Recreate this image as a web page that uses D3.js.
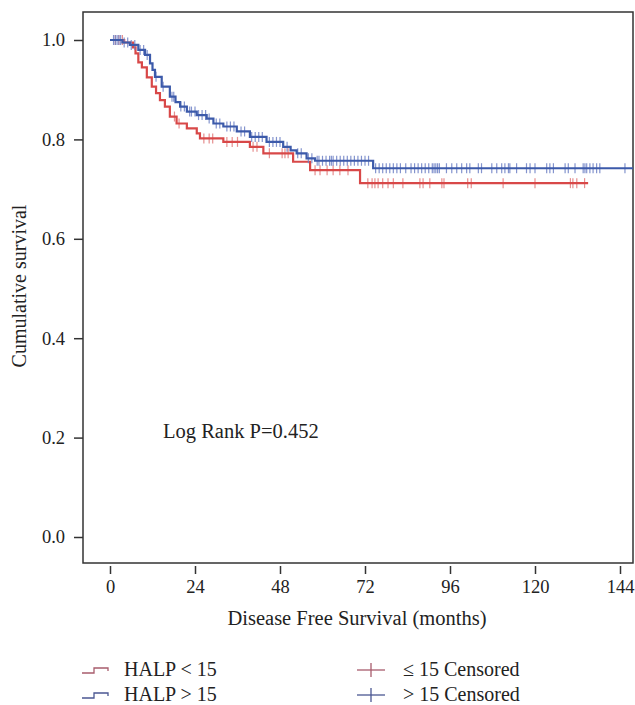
<!DOCTYPE html>
<html>
<head>
<meta charset="UTF-8">
<title>Disease Free Survival</title>
<script src="https://cdn.jsdelivr.net/npm/d3@7"></script>
<style>
  * { margin: 0; padding: 0; }
  body { background: #fff; }
  text { font-family: "Liberation Serif", "DejaVu Serif", serif; fill: #222; }
</style>
</head>
<body>
<div id="chart"></div>
<script>
// ---- data ----
var xTicks = [0, 24, 48, 72, 96, 120, 144];
var yTicks = [0, 0.2, 0.4, 0.6, 0.8, 1.0];

// HALP < 15 : event times (months) and survival after each step
var lowTimes = [0, 4, 6.5, 7.2, 8, 9, 10.4, 11.8, 13, 14.1, 15.5, 16.9, 18.8, 21.7, 24.5, 25.4, 32, 39.5, 43.3, 51.7, 56.5, 70.6];
var lowSurv  = [1, 0.995, 0.985, 0.973, 0.955, 0.945, 0.925, 0.906, 0.893, 0.879, 0.866, 0.846, 0.832, 0.822, 0.812, 0.802, 0.795, 0.785, 0.772, 0.755, 0.738, 0.712];
var lowEnd = 135;
var lowCensored = [1.5, 2.5, 3.5, 18.2, 19.5, 26.5, 28, 29, 33, 34.5, 36, 40.4, 41.5, 45, 48.6, 49.4, 50.3, 57.9, 59.3, 61.3, 63, 64.9, 67.2,
  72.8, 74, 74.8, 75.7, 77, 78.5, 80, 82.7, 87.5, 88.4, 90.3, 93.7, 94.3, 101, 102, 111, 120, 130, 130.7, 131.8, 134];

// HALP > 15
var highTimes = [0, 3.5, 5.6, 8, 9.9, 11.3, 12, 12.7, 14.6, 16.9, 18.5, 19.8, 21.7, 24.5, 27.3, 29.2, 32, 35.8, 39.5, 44.2, 48.9, 51, 52.7, 55.5, 57.9, 74.3];
var highSurv  = [1, 0.995, 0.99, 0.98, 0.97, 0.953, 0.94, 0.926, 0.906, 0.886, 0.875, 0.866, 0.856, 0.849, 0.842, 0.832, 0.826, 0.816, 0.805, 0.795, 0.785, 0.778, 0.772, 0.762, 0.757, 0.742];
var highEnd = 148;
var highCensored = [1, 1.5, 2, 2.5, 3, 4, 5, 6, 7, 8.5, 9.5, 10.5, 13, 15, 17.5, 18, 20, 21, 22.5, 23, 24, 25, 26, 27, 28, 30, 31, 33, 34, 35, 37, 38,
  40, 41, 42, 43, 45, 46, 47, 48, 50, 53, 54, 56, 57, 58.5, 59, 60, 61, 62, 62.5, 63, 64, 65, 66, 67, 68, 69, 70, 71, 72, 73,
  75, 76, 77, 78, 79, 80, 81, 82, 83.5, 85, 86, 87, 88, 89, 90, 91, 91.5, 92, 92.5, 93, 95, 96.5, 97.9, 99.3, 100.7, 101.6,
  104, 104.9, 107.8, 109.2, 110.6, 111.5, 112.5, 112.9, 114.8, 117.6, 118.6, 120, 123.3, 124.2, 125.2, 128.5, 129.4, 131.3,
  133.6, 134.1, 134.6, 135.5, 136.4, 137.4, 138.3, 145.4];

var legendLabels = ["HALP < 15", "HALP > 15", "\u2264 15 Censored", "> 15 Censored"];

// ---- layout ----
var W = 635, H = 705;
var frame = {left: 83, top: 12, right: 633, bottom: 563};
var red = "#d84848", blue = "#3c5aaa";
var redTick = "#e27c7c", blueTick = "#6f82c6";

var svg = d3.select("#chart").append("svg").attr("width", W).attr("height", H);

var x = d3.scaleLinear().domain([0, 144]).range([110, 620]);
var y = d3.scaleLinear().domain([0, 1]).range([537, 40]);

// frame
svg.append("rect")
  .attr("x", frame.left).attr("y", frame.top)
  .attr("width", frame.right - frame.left).attr("height", frame.bottom - frame.top)
  .attr("fill", "none").attr("stroke", "#333").attr("stroke-width", 1.5);

// y axis
var yAxis = svg.append("g").attr("transform", "translate(" + frame.left + ",0)")
  .call(d3.axisLeft(y).tickValues(yTicks).tickFormat(d3.format(".1f")).tickSize(9).tickPadding(9));
yAxis.select(".domain").remove();
yAxis.selectAll("line").attr("stroke", "#333").attr("stroke-width", 1.5);
yAxis.selectAll("text").attr("font-size", 18.5).attr("fill", "#222");

// x axis (offset below frame)
var xAxis = svg.append("g").attr("transform", "translate(0," + (frame.bottom + 3) + ")")
  .call(d3.axisBottom(x).tickValues(xTicks).tickSize(8).tickPadding(6));
xAxis.select(".domain").remove();
xAxis.selectAll("line").attr("stroke", "#333").attr("stroke-width", 1.5);
xAxis.selectAll("text").attr("font-size", 18.5).attr("fill", "#222");

// axis titles
svg.append("text").attr("x", 357).attr("y", 625).attr("text-anchor", "middle")
  .attr("font-size", 20.5).text("Disease Free Survival (months)");
svg.append("text").attr("transform", "translate(26,286) rotate(-90)").attr("text-anchor", "middle")
  .attr("font-size", 20).text("Cumulative survival");

svg.append("text").attr("x", 163).attr("y", 438).attr("font-size", 20.5).text("Log Rank P=0.452");

var plot = svg.append("g");
svg.append("clipPath").attr("id", "clip").append("rect")
  .attr("x", frame.left).attr("y", frame.top)
  .attr("width", frame.right - frame.left).attr("height", frame.bottom - frame.top);
plot.attr("clip-path", "url(#clip)");

function stepPoints(times, surv, end) {
  var pts = times.map(function(t, i) { return [t, surv[i]]; });
  pts.push([end, surv[surv.length - 1]]);
  return pts;
}
function survAt(times, surv, t) {
  var i = d3.bisectRight(times, t) - 1;
  return surv[Math.max(0, i)];
}
var line = d3.line().x(function(d) { return x(d[0]); }).y(function(d) { return y(d[1]); }).curve(d3.curveStepAfter);

function drawGroup(times, surv, end, cens, color, tickColor) {
  plot.append("g").selectAll("line").data(cens).enter().append("line")
    .attr("x1", function(d) { return x(d); }).attr("x2", function(d) { return x(d); })
    .attr("y1", function(d) { return y(survAt(times, surv, d)) - 5; })
    .attr("y2", function(d) { return y(survAt(times, surv, d)) + 5; })
    .attr("stroke", tickColor).attr("stroke-width", 1.2).attr("opacity", 0.85);
  plot.append("path").datum(stepPoints(times, surv, end))
    .attr("d", line).attr("fill", "none").attr("stroke", color).attr("stroke-width", 2.2);
}
drawGroup(lowTimes, lowSurv, lowEnd, lowCensored, red, redTick);
drawGroup(highTimes, highSurv, highEnd, highCensored, blue, blueTick);

// legend
var lg = svg.append("g");
var legColors = ["#a85c6c", "#4b5792"];
[0, 1].forEach(function(i) {
  var base = 676 + i * 25;
  lg.append("path")
    .attr("d", "M82," + (base - 3) + "H94V" + (base - 8) + "H108V" + (base - 5))
    .attr("fill", "none").attr("stroke", legColors[i]).attr("stroke-width", 1.3);
  lg.append("text").attr("x", 124).attr("y", base).attr("font-size", 20).text(legendLabels[i]);
  lg.append("line").attr("x1", 357).attr("x2", 385).attr("y1", base - 6).attr("y2", base - 6)
    .attr("stroke", legColors[i]).attr("stroke-width", 1.3);
  lg.append("line").attr("x1", 371).attr("x2", 371).attr("y1", base - 13).attr("y2", base + 1)
    .attr("stroke", legColors[i]).attr("stroke-width", 1.3);
  lg.append("text").attr("x", 403).attr("y", base).attr("font-size", 20).text(legendLabels[i + 2]);
});
</script>
</body>
</html>
